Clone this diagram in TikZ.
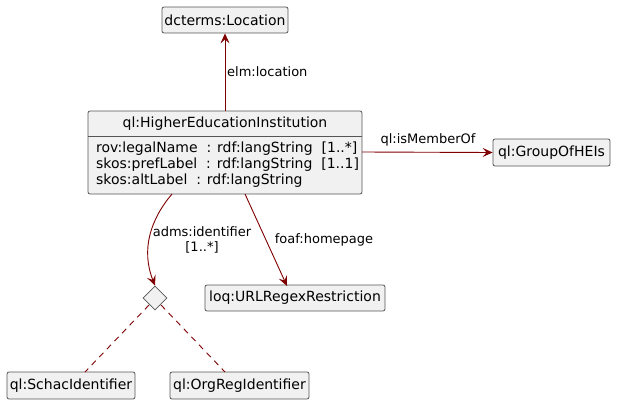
\documentclass[tikz,border=0pt]{standalone}
\usepackage{fontspec}
\setmainfont{DejaVu Sans}
\usetikzlibrary{arrows.meta,shapes.geometric}
\definecolor{boxfill}{HTML}{F1F1F1}
\definecolor{boxline}{HTML}{555555}
\definecolor{edge}{HTML}{7F0000}
\tikzset{
  cls/.style={draw=boxline,fill=boxfill,rounded corners=2pt,line width=0.8pt,
    inner xsep=1pt,inner ysep=0pt,minimum height=26pt,font=\fontsize{14}{16}\selectfont},
  attr/.style={font=\fontsize{14}{16}\selectfont,inner sep=0pt},
  rel/.style={draw=edge,line width=0.9pt,-{Stealth[length=10pt,width=9pt,inset=4pt]}},
  dashedge/.style={draw=edge,line width=0.9pt,dash pattern=on 6pt off 5pt},
  elab/.style={font=\fontsize{13}{15}\selectfont,inner sep=1pt},
}
\begin{document}
\begin{tikzpicture}[x=1pt,y=-1pt]
\useasboundingbox (0,0) rectangle (620,412);
\node[cls,minimum width=126pt] (loc) at (225,20) {dcterms:Location};
\node[cls,minimum width=117pt,minimum height=27pt] (grp) at (551.5,152.5) {ql:GroupOfHEIs};
\node[cls,minimum width=180pt] (url) at (295,298) {loq:URLRegexRestriction};
\node[cls,minimum width=128pt,minimum height=27pt] (schac) at (71,385.5) {ql:SchacIdentifier};
\node[cls,minimum width=139pt,minimum height=27pt] (org) at (239.5,385.5) {ql:OrgRegIdentifier};
% HEI class box
\draw[draw=boxline,fill=boxfill,rounded corners=2pt,line width=0.8pt] (88,111) rectangle (362,194);
\draw[draw=boxline,line width=0.8pt] (88,136) -- (362,136);
\node[attr] (hei) at (225,123.5) {ql:HigherEducationInstitution};
\node[attr,anchor=west] (a1) at (96,149) {rov:legalName\ \ : rdf:langString\ \ [1..*]};
\node[attr,anchor=west] (a2) at (96,165) {skos:prefLabel\ \ : rdf:langString\ \ [1..1]};
\node[attr,anchor=west] (a3) at (96,181) {skos:altLabel\ \ : rdf:langString};
\coordinate (heitop) at (225,111);
\coordinate (heiright) at (362,152);
\coordinate (heib1) at (172,194);
\coordinate (heib2) at (245,194);
% diamond
\node[draw=boxline,fill=boxfill,diamond,line width=0.8pt,minimum width=24pt,minimum height=24pt,inner sep=0pt] (dia) at (155,298) {};
\coordinate (d1) at (149,305);
\coordinate (d2) at (161,305);
% edges
\draw[rel] (heitop) -- (loc.south);
\node[elab,anchor=west] (l1) at (226,72) {elm:location};
\draw[rel] (heiright) -- (grp.west);
\node[elab] (l2) at (428,140) {ql:isMemberOf};
\draw[rel] (heib1) .. controls (150,220) and (141,250) .. (dia.north);
\node[elab,align=center] (l3) at (202,240) {adms:identifier\\{}[1..*]};
\draw[rel] (heib2) -- (287,286);
\node[elab] (l4) at (324,240) {foaf:homepage};
\draw[dashedge] (d1) -- (85,372);
\draw[dashedge] (d2) -- (225,372);
\end{tikzpicture}
\end{document}
